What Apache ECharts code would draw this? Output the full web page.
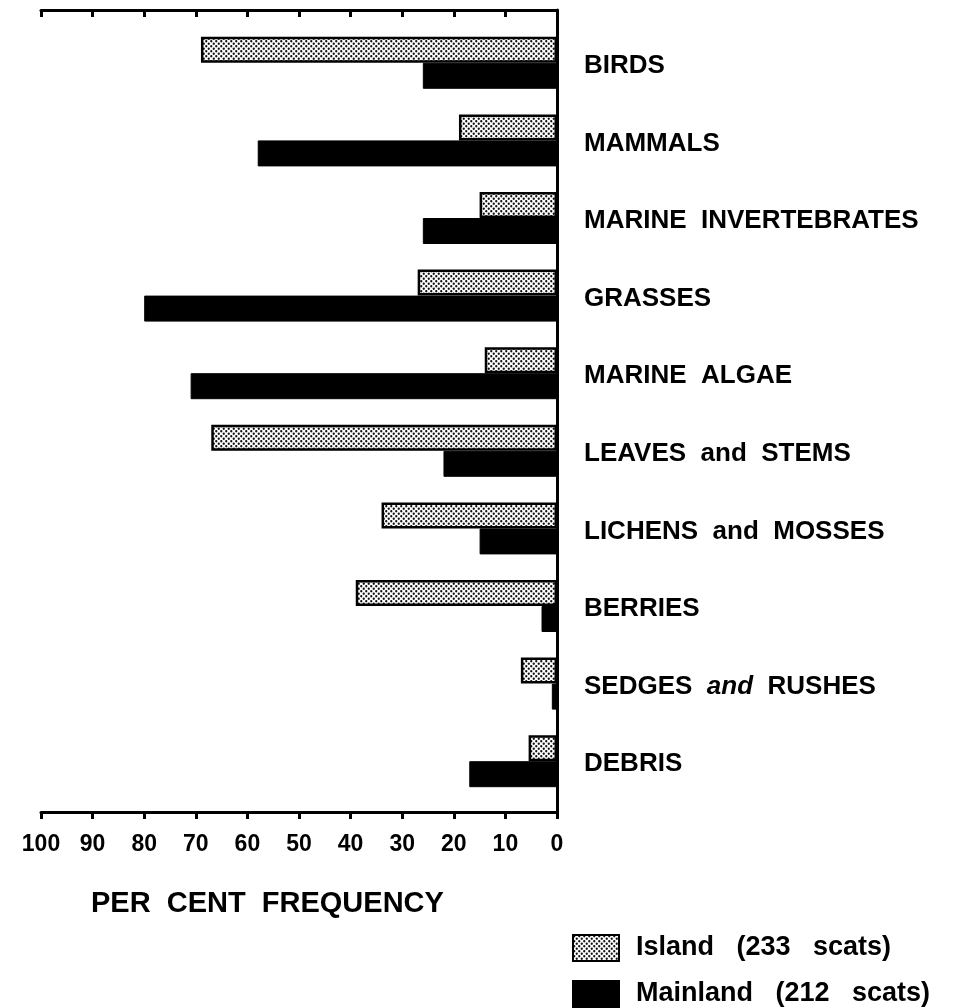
<!DOCTYPE html>
<html>
<head>
<meta charset="utf-8">
<script src="https://cdn.jsdelivr.net/npm/echarts@6/dist/echarts.min.js"></script>
<style>
  html, body { margin: 0; padding: 0; background: #fff; }
  #chart { width: 972px; height: 1008px; }
</style>
</head>
<body>
<div id="chart"></div>
<script>
const categories = ['BIRDS', 'MAMMALS', 'MARINE INVERTEBRATES', 'GRASSES', 'MARINE ALGAE',
  'LEAVES and STEMS', 'LICHENS and MOSSES', 'BERRIES', 'SEDGES and RUSHES', 'DEBRIS']
const island = [69, 19, 15, 27, 14, 67, 34, 39, 7, 5.5]
const mainland = [26, 58, 26, 80, 71, 22, 15, 3, 1, 17]
const seriesNames = ['Island   (233   scats)', 'Mainland   (212   scats)']
const xTicks = [0, 10, 20, 30, 40, 50, 60, 70, 80, 90, 100]

const FONT = '"Liberation Sans", Arial, sans-serif'

// stippled fill for the island bars
function stipple() {
  const c = document.createElement('canvas')
  c.width = 5; c.height = 5
  const g = c.getContext('2d')
  g.fillStyle = '#fff'; g.fillRect(0, 0, 5, 5)
  g.fillStyle = '#111'
  g.beginPath(); g.arc(1.25, 1.25, 1.15, 0, Math.PI * 2); g.fill()
  g.beginPath(); g.arc(3.75, 3.75, 1.15, 0, Math.PI * 2); g.fill()
  return c
}

const chart = echarts.init(document.getElementById('chart'), null, { renderer: 'canvas' })

const frameAxis = {
  type: 'value', gridIndex: 1, inverse: true, min: 0, max: 100, interval: 10,
  axisLine: { show: true, onZero: false, lineStyle: { color: '#000', width: 3 } },
  axisTick: { show: true, length: 7, lineStyle: { color: '#000', width: 3 } },
  splitLine: { show: false },
}

chart.setOption({
  backgroundColor: '#fff',
  animation: false,
  textStyle: { fontFamily: FONT, color: '#000' },
  grid: [
    { left: 41, right: 415, top: 24, height: 776 },
    { left: 41, right: 415, top: 10, height: 802 },
  ],
  xAxis: [
    { type: 'value', gridIndex: 0, inverse: true, min: 0, max: 100, show: false },
    { ...frameAxis, position: 'top', axisTick: { ...frameAxis.axisTick, inside: true }, axisLabel: { show: false } },
    { ...frameAxis, position: 'bottom', axisLabel: {
      show: true, margin: 21, fontSize: 23, fontWeight: 'bold', fontFamily: FONT, color: '#000',
      formatter: v => xTicks.includes(v) ? String(v) : '' } },
  ],
  yAxis: [
    { type: 'category', gridIndex: 0, data: categories, inverse: true, position: 'right',
      axisLine: { show: false }, axisTick: { show: false },
      axisLabel: {
        margin: 27, align: 'left', color: '#000',
        formatter: v => {
          if (v === 'SEDGES and RUSHES') return '{b|SEDGES  }{i|and}{b|  RUSHES}'
          return '{b|' + v.split(' ').join('  ') + '}'
        },
        rich: {
          b: { fontSize: 26, fontWeight: 'bold', fontFamily: FONT, color: '#000', padding: [6, 0, 0, 0] },
          i: { fontSize: 26, fontWeight: 'bold', fontStyle: 'italic', fontFamily: FONT, color: '#000', padding: [6, 0, 0, 0] },
        },
      } },
    { type: 'value', gridIndex: 1, position: 'right', min: 0, max: 1,
      axisLine: { show: true, lineStyle: { color: '#000', width: 3 } },
      axisTick: { show: false }, axisLabel: { show: false }, splitLine: { show: false } },
  ],
  legend: {
    orient: 'vertical', left: 572, top: 934, padding: 0, itemWidth: 46, itemHeight: 26, itemGap: 18,
    icon: 'rect', data: seriesNames,
    textStyle: { fontSize: 27, fontWeight: 'bold', fontFamily: FONT, color: '#000', padding: [0, 0, 0, 12] },
  },
  graphic: [{
    type: 'text', left: 91, top: 889,
    style: { text: 'PER  CENT  FREQUENCY', font: 'bold 29px ' + FONT, fill: '#000' },
  }],
  series: [
    { name: seriesNames[0], type: 'bar', xAxisIndex: 0, yAxisIndex: 0, data: island,
      barGap: '0%', barCategoryGap: '33%',
      itemStyle: { color: { image: stipple(), repeat: 'repeat' }, borderColor: '#000', borderWidth: 2.5 } },
    { name: seriesNames[1], type: 'bar', xAxisIndex: 0, yAxisIndex: 0, data: mainland,
      barGap: '0%', barCategoryGap: '33%',
      itemStyle: { color: '#000', borderColor: '#000', borderWidth: 1 } },
  ],
})
</script>
</body>
</html>
